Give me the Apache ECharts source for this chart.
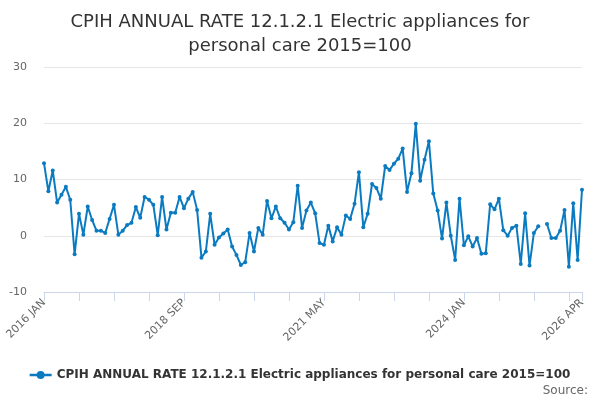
<!DOCTYPE html>
<html>
<head>
<meta charset="utf-8">
<script src="https://cdn.jsdelivr.net/npm/echarts@6/dist/echarts.min.js"></script>
<style>
  html, body { margin: 0; padding: 0; background: #fff; }
  #chart { width: 600px; height: 400px; }
</style>
</head>
<body>
<div id="chart"></div>
<script>
const seriesName = 'CPIH ANNUAL RATE 12.1.2.1 Electric appliances for personal care 2015=100'
const months = ['JAN', 'FEB', 'MAR', 'APR', 'MAY', 'JUN', 'JUL', 'AUG', 'SEP', 'OCT', 'NOV', 'DEC']
const yTicks = [-10, 0, 10, 20, 30]

// monthly values, 2016 JAN .. 2026 APR (null = missing month)
const values = [
  12.9, 7.9, 11.6, 5.9, 7.3, 8.7, 6.4, -3.3, 3.9, 0.2, 5.2, 2.8,
  0.9, 0.9, 0.5, 3.0, 5.5, 0.2, 0.9, 1.9, 2.3, 5.1, 3.2, 6.9,
  6.4, 5.5, 0.1, 6.9, 1.1, 4.1, 4.1, 6.9, 4.9, 6.6, 7.8, 4.6,
  -3.9, -2.8, 3.9, -1.6, -0.3, 0.4, 1.1, -1.9, -3.4, -5.2, -4.7, 0.5,
  -2.8, 1.4, 0.2, 6.2, 3.1, 5.2, 3.1, 2.3, 1.1, 2.4, 8.9, 1.4,
  4.5, 5.9, 4.0, -1.3, -1.6, 1.8, -1.0, 1.5, 0.2, 3.6, 3.0, 5.7,
  11.3, 1.5, 3.9, 9.2, 8.5, 6.6, 12.4, 11.7, 12.8, 13.7, 15.5, 7.8,
  11.1, 19.9, 9.8, 13.5, 16.8, 7.5, 4.5, -0.5, 5.9, 0.0, -4.3, 6.6,
  -1.7, -0.1, -1.9, -0.4, -3.2, -3.1, 5.6, 4.7, 6.6, 1.0, 0.0, 1.4,
  1.8, -5.0, 4.0, -5.3, 0.5, 1.7, null, 2.1, -0.4, -0.4, 0.9, 4.6,
  -5.5, 5.8, -4.3, 8.2
]

const categories = values.map((v, i) => (2016 + Math.floor(i / 12)) + ' ' + months[i % 12])
const last = categories.length - 1

const chart = echarts.init(document.getElementById('chart'))
chart.setOption({
  textStyle: { fontFamily: 'DejaVu Sans' },
  title: {
    text: 'CPIH ANNUAL RATE 12.1.2.1 Electric appliances for\npersonal care 2015=100',
    left: 'center',
    top: 5,
    textStyle: {
      color: '#333',
      fontSize: 18,
      fontWeight: 'normal',
      lineHeight: 24,
      fontFamily: 'DejaVu Sans',
      align: 'center'
    }
  },
  legend: {
    bottom: 14,
    left: 'center',
    itemWidth: 22,
    itemHeight: 8,
    textStyle: { color: '#333', fontSize: 12, fontWeight: 'bold' },
    data: [{ name: seriesName, icon: 'path://M0,3.4H10V4.6H0Z M5,2.2A1.8,1.8 0 1 1 5,5.8A1.8,1.8 0 1 1 5,2.2Z' }]
  },
  graphic: [{
    type: 'text',
    right: 12,
    bottom: 3,
    style: { text: 'Source:', fill: '#666', fontSize: 12, fontFamily: 'DejaVu Sans' }
  }],
  grid: {
    left: 44,
    right: 18,
    top: 67,
    bottom: 108
  },
  xAxis: {
    type: 'category',
    boundaryGap: false,
    data: categories,
    axisLine: { onZero: false, lineStyle: { color: '#ccd6eb' } },
    axisTick: {
      length: 9,
      lineStyle: { color: '#ccd6eb' },
      interval: (i) => i % 8 === 0 || i === last
    },
    axisLabel: {
      rotate: 45,
      color: '#666',
      fontSize: 11,
      margin: 9,
      interval: (i) => i % 32 === 0 || i === last
    },
    splitLine: { show: false }
  },
  yAxis: {
    type: 'value',
    min: yTicks[0],
    max: yTicks[yTicks.length - 1],
    interval: 10,
    axisLine: { show: false },
    axisTick: { show: false },
    axisLabel: { color: '#666', fontSize: 11, margin: 17 },
    splitLine: { lineStyle: { color: '#e6e6e6' } }
  },
  series: [{
    name: seriesName,
    type: 'line',
    data: values,
    color: '#0b7bc1',
    symbol: 'circle',
    symbolSize: 4,
    showAllSymbol: true,
    lineStyle: { width: 2 },
    connectNulls: false
  }]
})
</script>
</body>
</html>
